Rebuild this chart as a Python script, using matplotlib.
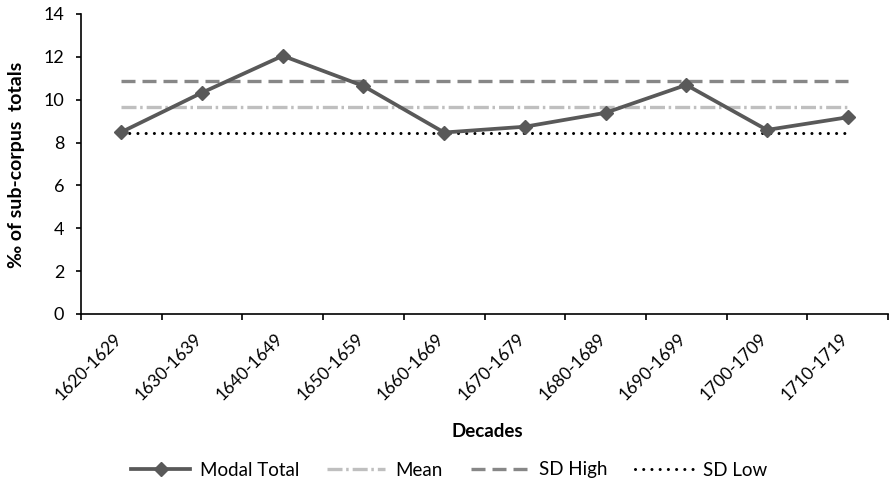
import matplotlib
matplotlib.use("Agg")
import matplotlib.pyplot as plt
from matplotlib.transforms import ScaledTranslation

plt.rcParams['font.family'] = ['Lato', 'DejaVu Sans']

decades = ["1620-1629", "1630-1639", "1640-1649", "1650-1659", "1660-1669",
           "1670-1679", "1680-1689", "1690-1699", "1700-1709", "1710-1719"]
modal_total = [8.49, 10.33, 12.05, 10.64, 8.47, 8.74, 9.39, 10.69, 8.59, 9.18]
mean_val = 9.66
sd_high = 10.86
sd_low = 8.43

W, H = 891, 482
fig = plt.figure(figsize=(W / 100, H / 100), dpi=100)
ax = fig.add_axes([81 / W, 1 - 314 / H, (888 - 81) / W, 300 / H])

x = list(range(len(decades)))
ax.plot(x, [mean_val] * len(x), color='#BFBFBF', lw=2.4, linestyle=(0, (4.5, 1.1, 0.75, 1.2)), label='Mean', zorder=2)
ax.plot(x, [sd_high] * len(x), color='#878787', lw=2.4, linestyle=(0, (4.2, 2.1)), label='SD High', zorder=2)
ax.plot(x, [sd_low] * len(x), color='black', lw=2.2, linestyle=(0, (0.01, 2.68)), dash_capstyle='round', label='SD Low', zorder=3)
ax.plot(x, modal_total, color='#595959', lw=2.7, marker='D', markersize=7.5, label='Modal Total', zorder=4)

ax.set_xlim(-0.5, len(decades) - 0.5)
ax.set_ylim(0, 14)
ax.set_yticks(range(0, 15, 2))
ax.set_xticks([i - 0.5 for i in range(len(decades) + 1)])
ax.set_xticklabels([])
ax.set_xticks(x, minor=True)
ax.set_xticklabels(decades, minor=True, rotation=45, ha='right', rotation_mode='anchor', fontsize=12.5)
ax.tick_params(axis='x', which='minor', length=0, pad=6)
ax.tick_params(axis='x', which='major', length=4.5, width=1.2, direction='out')
ax.tick_params(axis='y', length=3.5, width=1.2, labelsize=13, pad=8.6)

offset = ScaledTranslation(-8 / 100, -8 / 100, fig.dpi_scale_trans)
for lab in ax.get_xticklabels(minor=True):
    lab.set_transform(lab.get_transform() + offset)

for s in ['top', 'right']:
    ax.spines[s].set_visible(False)
for s in ['left', 'bottom']:
    ax.spines[s].set_linewidth(1.2)

ax.set_ylabel('‰ of sub-corpus  totals', fontsize=14, fontweight='bold')
ax.yaxis.set_label_coords((17 - 81) / 807, 0.497)
ax.yaxis.label.set_va('center')

fig.text(487 / W, 1 - 437 / H, 'Decades', ha='center', va='baseline', fontsize=13.5, fontweight='bold')

handles, labels = ax.get_legend_handles_labels()
order = [3, 0, 1, 2]
fig.legend([handles[i] for i in order], [labels[i] for i in order],
           loc='center', bbox_to_anchor=(449.5 / W, 1 - 470 / H), ncol=4,
           frameon=False, fontsize=13.5, handlelength=3.1, columnspacing=1.5, handletextpad=0.53)

fig.savefig('out.png', dpi=100)
